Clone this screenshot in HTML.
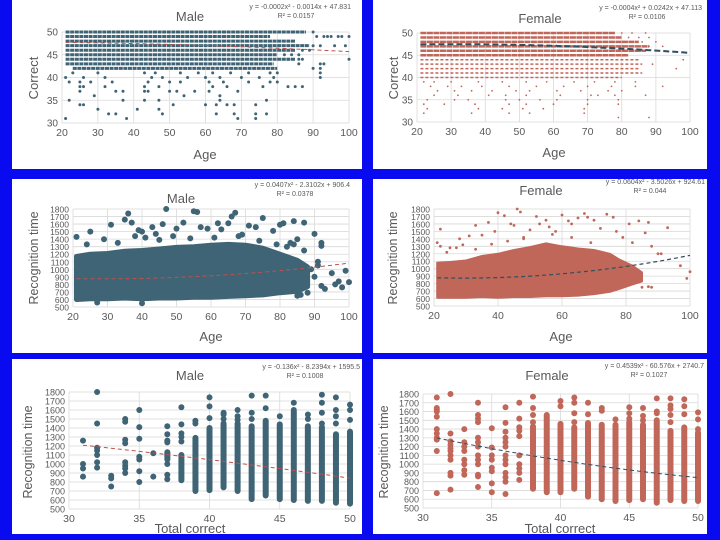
<!DOCTYPE html>
<html><head><meta charset="utf-8"><style>
html,body{margin:0;padding:0;background:#0a0af0;}
svg{display:block;font-family:"Liberation Sans",sans-serif;}
</style></head><body>
<svg id="s" width="720" height="540" viewBox="0 0 720 540"></svg>
<script>
// ---------- data ----------
const ageTicksA=[20,30,40,50,60,70,80,90,100];
const ageTicksB=[20,40,60,80,100];
const corrTicks=[30,35,40,45,50];
const rtTicks=[500,600,700,800,900,1000,1100,1200,1300,1400,1500,1600,1700,1800];
const totTicks=[30,35,40,45,50];

// chart 1: male correct vs age
const m1RowVals=[50,49,48,47,46,45,44,43,42];
const m1RowStart=[21,21,21,21,21,21,21,21,23];
const m1RowEnd=[88,78,85,89,85,80,85,79,80];
const m1PtAge=[23,30,43,46,53,58,62,67,72,78,80,92,21,26,32,45,48,55,60,64,70,75,79,92,22,25,28,34,44,50,53,61,65,72,78,80,25,26,32,43,47,62,66,76,83,85,87,25,35,37,43,44,50,52,57,61,69,29,54,64,22,37,43,47,64,77,25,26,51,60,63,66,68,74,30,41,47,33,35,48,63,68,74,77,21,38,69,74,90,91,93,94,95,97,98,100,90,92,96,99,87,89,82,84,86,83,86,87,100,86,92,93,90,92];
const m1PtCor=[41,41,41,41,41,41,41,41,41,41,41,41,40,40,40,40,40,40,40,40,40,40,40,40,39,39,39,39,39,39,39,39,39,39,39,39,38,38,38,38,38,38,38,38,38,38,38,37,37,37,37,37,37,37,37,37,37,36,36,36,35,35,35,35,35,35,34,34,34,34,34,34,34,34,33,33,33,32,32,32,32,32,32,32,31,31,31,31,50,49,49,49,49,49,49,49,47,47,47,47,46,46,45,45,45,44,44,44,44,43,43,43,42,42];
const m1Coef=[-0.0002,-0.0014,47.831];

// chart 2: female correct vs age
const f2RowVals=[50,49,48,47,46,45,44,43,42,41,40];
const f2RowStart=[21,21,21,21,21,21,21,21,21,21,21];
const f2RowEnd=[78,80,85,88,87,82,85,86,85,86,80];
const f2PtAge=[80,83,87,82,85,88,90,86,88,92,85,87,98,89,96,22,25,30,38,45,52,58,66,72,78,84,92,24,29,33,39,47,55,63,70,77,84,26,31,36,42,49,53,61,68,76,80,25,32,41,46,52,62,71,73,78,87,23,31,35,46,50,56,61,70,79,22,28,37,47,52,60,70,79,23,38,45,51,57,69,22,36,47,53,69,79,88];
const f2PtCor=[50,50,50,49,49,49,48,48,47,47,46,46,44,43,42,39,39,39,39,39,39,39,39,39,39,39,38,38,38,38,38,38,38,38,38,38,38,37,37,37,37,37,37,37,37,37,37,36,36,36,36,36,36,36,36,36,36,35,35,35,35,35,35,35,35,35,34,34,34,34,34,34,34,34,33,33,33,33,33,33,32,32,32,32,32,31,31];
const f2Coef=[-0.0004,0.0242,47.113];

// chart 3: male recognition time vs age (dense band + outliers)
const m3BandAge=[21,25,30,35,40,45,50,55,60,65,70,75,80,85,88];
const m3BandLo=[600,610,610,620,610,620,620,630,630,640,650,660,690,710,770];
const m3BandHi=[1170,1200,1210,1240,1250,1270,1290,1300,1320,1330,1320,1280,1200,1120,1030];
const m3OutAge=[21,25,29,31,35,36,37,38,39,40,41,43,44,46,47,49,50,52,55,56,57,59,62,63,65,66,67,69,71,73,75,78,80,81,82,84,85,87,87,90,92,92,91,90,92,93,95,96,97,98,99,100,85,86,88,27,40,83,84,89,91,24,33,45,54,61,68,74,79];
const m3OutRt=[1430,1500,1400,1590,1660,1740,1620,1440,1520,1500,1420,1560,1470,1600,1800,1440,1540,1620,1770,1760,1560,1540,1610,1530,1610,1700,1750,1460,1580,1560,1680,1510,1590,1610,1300,1640,1400,1620,1250,1470,1350,1310,1100,900,780,740,950,800,840,760,980,830,650,660,690,560,550,1350,1330,1000,1050,1330,1350,1390,1410,1420,1440,1380,1330];
const m3Coef=[0.0407,-2.3102,906.4];

// chart 4: female recognition time vs age
const f4BandAge=[21,25,30,35,40,45,50,55,60,65,70,75,78,82,85];
const f4BandLo=[610,610,610,620,610,620,620,630,630,640,660,690,730,790,830];
const f4BandHi=[1080,1090,1110,1170,1200,1250,1290,1340,1300,1270,1250,1200,1120,1040,950];
const f4OutAge=[21,22,25,28,31,33,35,37,39,40,42,44,45,46,47,48,50,52,53,55,56,58,60,62,63,65,67,68,70,72,74,76,77,79,81,82,84,86,87,88,90,91,93,97,99,100,22,24,27,29,85,87,88,33,38,43,48,57,63,69];
const f4OutRt=[1350,1530,1280,1400,1440,1580,1450,1620,1500,1750,1710,1600,1580,1800,1760,1420,1520,1700,1600,1650,1560,1500,1720,1640,1600,1680,1740,1690,1650,1540,1730,1690,1500,1420,1600,1350,1640,1480,1620,1300,1200,1200,1550,1040,870,960,1300,1220,1280,1320,750,760,750,1260,1330,1370,1400,1460,1420,1350];
const f4Coef=[0.0604,-3.5026,924.61];

// chart 5: male recognition time vs total correct
const m5Cats=[31,32,33,34,35,36,37,38,39,40,41,42,43,44,45,46,47,48,49,50];
const m5SegLo=[0,0,0,0,0,0,1050,820,700,710,740,700,610,650,610,600,590,590,570,560];
const m5SegHi=[0,0,0,0,0,0,1130,1100,1290,1400,1450,1450,1420,1480,1440,1580,1420,1410,1330,1360];
const m5Pts=[[1260,1000,950,860],[1800,1450,1180,1150,1100,1020,960],[870,840,750],[1500,1470,1270,1230,1020,980,950,900],[1600,1410,1280,1080,1050,920,800],[1120,860],[1420,1330,1260,1240,1000,880,830],[1630,1440,1340,1300,1250],[1480,1450],[1740,1640,1510],[1570,1550,1500],[1600,1530,1490],[1760,1570,1500],[1760,1620],[1530],[1680,1600],[1550,1500],[1770,1680,1570,1450],[1740,1600,1530,1450],[1660,1600,1490]];
const m5Coef=[-0.136,-8.2394,1595.5];

// chart 6: female recognition time vs total correct
const f6Cats=[31,32,33,34,35,36,37,38,39,40,41,42,43,44,45,46,47,48,49,50];
const f6SegLo=[0,0,0,0,0,0,0,720,680,680,720,630,600,580,590,600,560,590,580,580];
const f6SegHi=[0,0,0,0,0,0,0,1430,1560,1460,1420,1470,1450,1450,1480,1450,1500,1380,1420,1360];
const f6Pts=[[1760,1640,1620,1600,1540,1400,1350,1300,1280,1150,670],[1800,1350,1260,1220,1180,1150,1100,1050,900,870,710],[1400,1250,1200,1150,1050,1000,930,880],[1700,1560,1520,1480,1300,1250,1200,1100,1050,1000,880,860,740],[1410,1190,1100,1050,960,920,780,680],[1650,1470,1370,1300,1250,1200,1100,1050,1000,900,850,800,660],[1700,1520,1420,1380,1320,1100,1000,950,900,820],[1770,1640,1560,1480],[],[1720,1660],[1760,1700,1580,1480],[1700,1570],[1640,1610],[1510],[1650,1580,1520],[1640,1550,1500],[1750,1600,1580],[1750,1670,1630,1560,1480],[1740,1660,1570],[1590,1510,1400]];
const f6Coef=[0.4539,-60.576,2740.7];

// ---------- drawing ----------
const NS="http://www.w3.org/2000/svg";
const svg=document.getElementById('s');
function mk(tag,attrs,parent){const e=document.createElementNS(NS,tag);for(const k in attrs)e.setAttribute(k,attrs[k]);(parent||svg).appendChild(e);return e;}
function txt(str,attrs,parent){const e=mk('text',attrs,parent);e.textContent=str;return e;}
const MALE='#3f6475',FEMALE='#c0675a',GRID='#d9d9d9',LAB='#595959';

function panel(c){
  const g=mk('g',{});
  
  
  const bg=mk('rect',{x:c.box[0],y:c.box[1],width:c.box[2],height:c.box[3],fill:'#fff'},g);
  
  
  const sx=v=>c.px[0]+(v-c.xd[0])/(c.xd[1]-c.xd[0])*(c.px[1]-c.px[0]);
  const sy=v=>c.py[1]+(v-c.yd[0])/(c.yd[1]-c.yd[0])*(c.py[0]-c.py[1]);
  const grid=mk('g',{},g);
  
  
  c.yt.forEach(t=>{mk('line',{x1:c.px[0],x2:c.px[1],y1:sy(t),y2:sy(t),stroke:GRID,'stroke-width':0.8},grid);
    const l=txt(String(t),{x:c.px[0]-4,y:sy(t)+3.5,'font-size':c.yfs||10,fill:LAB,'text-anchor':'end'},g);
    
    });
  c.xt.forEach(t=>{mk('line',{x1:sx(t),x2:sx(t),y1:c.py[0],y2:c.py[1],stroke:GRID,'stroke-width':0.8},grid);
    const l=txt(String(t),{x:sx(t),y:c.py[1]+13,'font-size':10.5,fill:LAB,'text-anchor':'middle'},g);
    
    });
  const t=txt(c.title,{x:c.tp[0],y:c.tp[1],'font-size':13,fill:LAB,'text-anchor':'middle'},g);
  
  
  const e1=txt(c.eq,{x:c.ep[0],y:c.ep[1],'font-size':7,fill:LAB,'text-anchor':'end'},g);
  
  
  const e2=txt(c.r2,{x:c.ep[0]-55,y:c.ep[1]+9,'font-size':7,fill:LAB,'text-anchor':'middle'},g);
  
  
  const xl=txt(c.xl,{x:c.xlp[0],y:c.xlp[1],'font-size':13,fill:LAB,'text-anchor':'middle'},g);
  
  
  const yl=txt(c.yl,{x:0,y:0,'font-size':c.ylfs||13,fill:LAB,'text-anchor':'middle',transform:`translate(${c.ylp[0]},${c.ylp[1]}) rotate(-90)`},g);
  
  
  const series=mk('g',{},g);
  
  
  return {g,sx,sy,series};
}
function trend(P,coef,x0,x1,color,w,dash){
  let d='';for(let i=0;i<=40;i++){const x=x0+(x1-x0)*i/40;const y=coef[0]*x*x+coef[1]*x+coef[2];d+=(i?'L':'M')+P.sx(x).toFixed(1)+','+P.sy(y).toFixed(1);}
  const p=mk('path',{d,fill:'none',stroke:color,'stroke-width':w,'stroke-dasharray':dash},P.g);
  
  
}
function dot(P,x,y,r,col){
  const c=mk('circle',{cx:P.sx(x).toFixed(1),cy:P.sy(y).toFixed(1),r,fill:col},P.series);
  
  
}
function rows(P,vals,st,en,col,w,dash){
  vals.forEach((v,i)=>{const l=mk('line',{x1:P.sx(st[i]),x2:P.sx(en[i]),y1:P.sy(v),y2:P.sy(v),stroke:col,'stroke-width':w,'stroke-dasharray':dash},P.series);
    
    });
}
function band(P,ages,lo,hi,col,sw){
  let d='';ages.forEach((a,i)=>{d+=(i?'L':'M')+P.sx(a).toFixed(1)+','+P.sy(hi[i]).toFixed(1);});
  for(let i=ages.length-1;i>=0;i--)d+='L'+P.sx(ages[i]).toFixed(1)+','+P.sy(lo[i]).toFixed(1);
  const p=mk('path',{d:d+'Z',fill:col,stroke:col,'stroke-width':sw,'stroke-linejoin':'round'},P.series);
  
  
}
function cols(P,cats,lo,hi,pts,col,w,r){
  cats.forEach((c,i)=>{
    if(hi[i]>0){const l=mk('line',{x1:P.sx(c),x2:P.sx(c),y1:P.sy(lo[i]),y2:P.sy(hi[i]),stroke:col,'stroke-width':w,'stroke-linecap':'round'},P.series);
      
      }
    pts[i].forEach(v=>dot(P,c,v,r,col));
  });
}

// Panel 1
let P=panel({name:'male-correct-vs-age',box:[12,0,350,169],px:[62,349],py:[32,123],xd:[20,100],yd:[30,50],xt:ageTicksA,yt:corrTicks,
  title:'Male',tp:[190,21],eq:'y = -0.0002x² - 0.0014x + 47.831',r2:'R² = 0.0157',ep:[351,9],xl:'Age',xlp:[205,159],yl:'Correct',ylp:[38,78]});
rows(P,m1RowVals,m1RowStart,m1RowEnd,MALE,3,'4,0.6');
m1PtAge.forEach((a,i)=>dot(P,a,m1PtCor[i],1.5,MALE));
trend(P,m1Coef,21,100,'#c0504d',1,'4,3');

// Panel 2
P=panel({name:'female-correct-vs-age',box:[373,0,334,169],px:[417,690],py:[33,122],xd:[20,100],yd:[30,50],xt:ageTicksA,yt:corrTicks,
  title:'Female',tp:[540,23],eq:'y = -0.0004x² + 0.0242x + 47.113',r2:'R² = 0.0106',ep:[702,10],xl:'Age',xlp:[554,157],yl:'Correct',ylp:[398,78]});
rows(P,f2RowVals.slice(0,6),f2RowStart.slice(0,6),f2RowEnd.slice(0,6),FEMALE,2.5,'6,0.5');
rows(P,f2RowVals.slice(6),f2RowStart.slice(6),f2RowEnd.slice(6),FEMALE,1.5,'3,2');
f2PtAge.forEach((a,i)=>dot(P,a,f2PtCor[i],0.9,FEMALE));
trend(P,f2Coef,21,100,'#2f4f5f',2,'6,3');

// Panel 3
P=panel({name:'male-recognition-time-vs-age',box:[12,179,350,174],px:[73,349],py:[209,307],xd:[20,100],yd:[500,1800],xt:ageTicksA,yt:rtTicks,yfs:8.5,
  title:'Male',tp:[181,203],eq:'y = 0.0407x² - 2.3102x + 906.4',r2:'R² = 0.0378',ep:[350,187],xl:'Age',xlp:[211,341],yl:'Recognition  time',ylfs:12.5,ylp:[38,258]});
band(P,m3BandAge,m3BandLo,m3BandHi,MALE,5);
m3OutAge.forEach((a,i)=>dot(P,a,m3OutRt[i],3,MALE));
trend(P,m3Coef,21,100,'#c0504d',1,'4,3');

// Panel 4
P=panel({name:'female-recognition-time-vs-age',box:[373,179,334,174],px:[434,690],py:[209,306],xd:[20,100],yd:[500,1800],xt:ageTicksB,yt:rtTicks,yfs:8.5,
  title:'Female',tp:[541,195],eq:'y = 0.0604x² - 3.5026x + 924.61',r2:'R² = 0.044',ep:[705,184],xl:'Age',xlp:[561,341],yl:'Recognition  time',ylfs:12.5,ylp:[397,258]});
band(P,f4BandAge,f4BandLo,f4BandHi,FEMALE,2);
f4OutAge.forEach((a,i)=>dot(P,a,f4OutRt[i],1.4,FEMALE));
trend(P,f4Coef,21,100,'#2f4f5f',1.2,'4,3');

// Panel 5
P=panel({name:'male-recognition-time-vs-correct',box:[12,359,350,175],px:[69,350],py:[392,509],xd:[30,50],yd:[500,1800],xt:totTicks,yt:rtTicks,yfs:9,
  title:'Male',tp:[190,380],eq:'y = -0.136x² - 8.2394x + 1595.5',r2:'R² = 0.1008',ep:[360,369],xl:'Total correct',xlp:[190,533],yl:'Recognition  time',ylfs:12.5,ylp:[32,452]});
cols(P,m5Cats,m5SegLo,m5SegHi,m5Pts,MALE,6,3);
trend(P,m5Coef,31,50,'#c0504d',1,'4,3');

// Panel 6
P=panel({name:'female-recognition-time-vs-correct',box:[373,359,334,175],px:[423,698],py:[394,508],xd:[30,50],yd:[500,1800],xt:totTicks,yt:rtTicks,yfs:9,
  title:'Female',tp:[547,380],eq:'y = 0.4539x² - 60.576x + 2740.7',r2:'R² = 0.1027',ep:[704,368],xl:'Total correct',xlp:[560,533],yl:'Recognition  time',ylfs:12.5,ylp:[388,452]});
cols(P,f6Cats,f6SegLo,f6SegHi,f6Pts,FEMALE,6,3);
trend(P,f6Coef,31,50,'#2f4f5f',1,'4,3');
</script>
</body></html>
